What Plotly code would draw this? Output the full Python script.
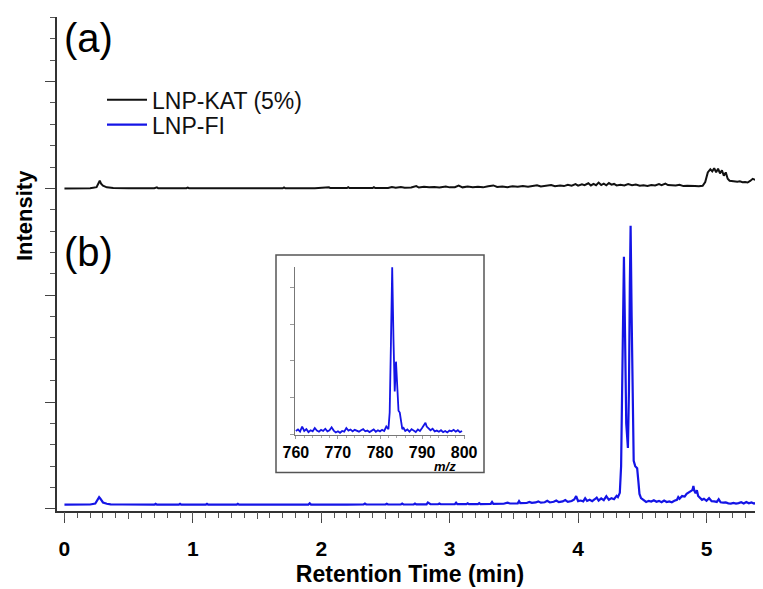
import plotly.graph_objects as go

# ---------------- data ----------------
# Chromatogram (a) LNP-KAT (5%): retention time (min) and relative intensity
kat_time = [0.00, 0.10, 0.20, 0.25, 0.265, 0.275, 0.285, 0.30, 0.33, 0.38, 0.50, 0.70, 0.72, 0.73,
            0.95, 0.96, 0.97, 1.20, 1.21, 1.22, 1.45, 1.46, 1.47, 1.70, 1.71, 1.72, 1.95, 2.05, 2.06,
            2.07, 2.20, 2.21, 2.22, 2.40, 2.41, 2.42, 2.52, 2.55, 2.58, 2.62, 2.65, 2.70, 2.74, 2.76,
            2.80, 2.84, 2.88, 2.92, 2.97, 3.00, 3.04, 3.07, 3.10, 3.14, 3.18, 3.22, 3.26, 3.30, 3.34,
            3.37, 3.41, 3.45, 3.49, 3.53, 3.57, 3.61, 3.65, 3.68, 3.71, 3.75, 3.79, 3.82, 3.86, 3.89,
            3.92, 3.95, 3.98, 4.00, 4.03, 4.05, 4.08, 4.10, 4.12, 4.14, 4.16, 4.18, 4.20, 4.22, 4.24,
            4.26, 4.28, 4.30, 4.33, 4.36, 4.39, 4.42, 4.45, 4.48, 4.51, 4.54, 4.57, 4.60, 4.63, 4.65,
            4.68, 4.70, 4.73, 4.76, 4.79, 4.82, 4.85, 4.88, 4.91, 4.94, 4.97, 4.99, 5.01, 5.03, 5.045,
            5.06, 5.075, 5.09, 5.105, 5.12, 5.135, 5.15, 5.165, 5.18, 5.20, 5.22, 5.24, 5.26, 5.28,
            5.30, 5.32, 5.34, 5.36, 5.38, 5.40, 5.42, 5.44, 5.45]
kat_intensity = [0.000, 0.000, 0.002, 0.012, 0.055, 0.072, 0.045, 0.025, 0.010, 0.003, 0.002, 0.002,
                 0.010, 0.002, 0.002, 0.008, 0.002, 0.002, 0.008, 0.002, 0.002, 0.009, 0.002, 0.002,
                 0.010, 0.002, 0.002, 0.003, 0.010, 0.003, 0.003, 0.011, 0.003, 0.003, 0.012, 0.004,
                 0.005, 0.014, 0.006, 0.013, 0.007, 0.009, 0.022, 0.008, 0.015, 0.010, 0.014, 0.008,
                 0.018, 0.010, 0.012, 0.026, 0.010, 0.018, 0.012, 0.016, 0.010, 0.020, 0.028, 0.014,
                 0.018, 0.012, 0.020, 0.015, 0.022, 0.016, 0.025, 0.030, 0.018, 0.022, 0.032, 0.020,
                 0.028, 0.022, 0.035, 0.025, 0.040, 0.026, 0.038, 0.030, 0.048, 0.028, 0.042, 0.030,
                 0.055, 0.032, 0.045, 0.030, 0.050, 0.035, 0.042, 0.028, 0.035, 0.028, 0.040, 0.030,
                 0.036, 0.025, 0.030, 0.024, 0.032, 0.027, 0.040, 0.030, 0.045, 0.032, 0.030, 0.028,
                 0.035, 0.022, 0.024, 0.020, 0.022, 0.020, 0.025, 0.060, 0.150, 0.180, 0.160, 0.190,
                 0.150, 0.185, 0.140, 0.170, 0.120, 0.150, 0.090, 0.072, 0.068, 0.070, 0.062, 0.066,
                 0.058, 0.060, 0.055, 0.070, 0.090, 0.080, 0.110, 0.095, 0.120, 0.115]
kat_offset = 3.0   # trace (a) is stacked above trace (b)

# Chromatogram (b) LNP-FI
fi_time = [0.00, 0.10, 0.20, 0.24, 0.26, 0.27, 0.28, 0.30, 0.33, 0.36, 0.45, 0.55, 0.70, 0.71, 0.72,
           0.89, 0.90, 0.91, 1.10, 1.11, 1.12, 1.34, 1.35, 1.36, 1.61, 1.62, 1.63, 1.90, 1.91, 1.92,
           2.20, 2.33, 2.34, 2.35, 2.50, 2.51, 2.52, 2.62, 2.63, 2.64, 2.72, 2.73, 2.74, 2.82, 2.83,
           2.85, 2.91, 2.92, 2.93, 3.04, 3.05, 3.06, 3.13, 3.14, 3.15, 3.22, 3.23, 3.24, 3.32, 3.33,
           3.34, 3.42, 3.45, 3.47, 3.53, 3.54, 3.55, 3.60, 3.62, 3.64, 3.67, 3.69, 3.71, 3.74, 3.76,
           3.78, 3.81, 3.83, 3.85, 3.88, 3.90, 3.92, 3.95, 3.97, 3.985, 4.00, 4.02, 4.04, 4.055, 4.07,
           4.09, 4.11, 4.13, 4.145, 4.16, 4.18, 4.20, 4.22, 4.24, 4.26, 4.28, 4.30, 4.31, 4.325, 4.335,
           4.345, 4.357, 4.366, 4.375, 4.388, 4.396, 4.403, 4.409, 4.417, 4.425, 4.433, 4.445, 4.46,
           4.47, 4.478, 4.49, 4.51, 4.53, 4.55, 4.57, 4.59, 4.61, 4.63, 4.65, 4.67, 4.69, 4.71, 4.73,
           4.75, 4.77, 4.78, 4.79, 4.81, 4.83, 4.845, 4.86, 4.875, 4.89, 4.898, 4.905, 4.915, 4.925,
           4.935, 4.95, 4.965, 4.98, 5.00, 5.02, 5.04, 5.06, 5.08, 5.095, 5.11, 5.13, 5.15, 5.17, 5.19,
           5.21, 5.23, 5.25, 5.27, 5.29, 5.31, 5.33, 5.35, 5.37, 5.39, 5.41, 5.43, 5.45]
fi_intensity = [0.040, 0.040, 0.041, 0.050, 0.085, 0.110, 0.095, 0.060, 0.048, 0.042, 0.041, 0.040,
                0.040, 0.048, 0.040, 0.040, 0.047, 0.040, 0.040, 0.048, 0.040, 0.040, 0.047, 0.040,
                0.040, 0.047, 0.040, 0.040, 0.052, 0.040, 0.040, 0.041, 0.050, 0.041, 0.041, 0.048,
                0.041, 0.041, 0.049, 0.041, 0.041, 0.050, 0.042, 0.042, 0.060, 0.043, 0.043, 0.050,
                0.043, 0.043, 0.058, 0.044, 0.044, 0.052, 0.044, 0.045, 0.054, 0.045, 0.046, 0.065,
                0.047, 0.048, 0.058, 0.050, 0.052, 0.072, 0.053, 0.055, 0.065, 0.056, 0.060, 0.070,
                0.058, 0.062, 0.075, 0.060, 0.066, 0.078, 0.063, 0.070, 0.082, 0.066, 0.074, 0.088,
                0.120, 0.072, 0.078, 0.070, 0.100, 0.074, 0.085, 0.072, 0.090, 0.105, 0.078, 0.098,
                0.082, 0.118, 0.085, 0.100, 0.090, 0.122, 0.110, 0.150, 0.400, 1.300, 2.360, 1.600,
                0.800, 0.570, 1.100, 2.100, 2.650, 1.800, 0.850, 0.450, 0.400, 0.380, 0.250, 0.140,
                0.100, 0.080, 0.065, 0.075, 0.068, 0.080, 0.066, 0.075, 0.062, 0.078, 0.064, 0.070,
                0.062, 0.075, 0.085, 0.110, 0.095, 0.120, 0.115, 0.140, 0.150, 0.160, 0.175, 0.215,
                0.170, 0.145, 0.175, 0.120, 0.105, 0.085, 0.095, 0.075, 0.100, 0.072, 0.070, 0.065,
                0.090, 0.062, 0.058, 0.060, 0.052, 0.050, 0.056, 0.050, 0.054, 0.062, 0.050, 0.064,
                0.052, 0.060, 0.050, 0.057, 0.050, 0.062, 0.055]

# Inset: mass spectrum of the LNP-FI peak
ms_mz = [760.0, 760.5, 761.0, 761.5, 762.0, 762.5, 763.0, 763.5, 764.0, 764.5, 765.0, 765.5, 766.0,
         766.5, 767.0, 767.5, 768.0, 768.5, 769.0, 769.5, 770.0, 770.5, 771.0, 771.5, 772.0, 772.5,
         773.0, 773.5, 774.0, 774.5, 775.0, 775.5, 776.0, 776.5, 777.0, 777.5, 778.0, 778.5, 779.0,
         779.5, 780.0, 780.5, 781.0, 781.5, 782.0, 782.3, 782.6, 782.9, 783.2, 783.5, 783.8, 784.1,
         784.4, 784.7, 785.0, 785.3, 785.6, 786.0, 786.5, 787.0, 787.5, 788.0, 788.5, 789.0, 789.5,
         790.0, 790.5, 790.8, 791.1, 791.5, 792.0, 792.5, 793.0, 793.5, 794.0, 794.5, 795.0, 795.5,
         796.0, 796.5, 797.0, 797.5, 798.0, 798.5, 799.0, 799.5]
ms_intensity = [0.10, 0.14, 0.08, 0.22, 0.10, 0.15, 0.07, 0.12, 0.09, 0.18, 0.11, 0.08, 0.13, 0.10,
                0.16, 0.09, 0.12, 0.20, 0.11, 0.06, 0.09, 0.05, 0.10, 0.08, 0.18, 0.11, 0.14, 0.09,
                0.13, 0.10, 0.08, 0.12, 0.15, 0.09, 0.11, 0.07, 0.10, 0.14, 0.08, 0.12, 0.09, 0.13,
                0.10, 0.22, 0.15, 0.60, 2.50, 4.54, 2.60, 1.17, 1.98, 1.30, 0.65, 0.60, 0.30, 0.15,
                0.18, 0.10, 0.14, 0.08, 0.15, 0.10, 0.07, 0.14, 0.10, 0.18, 0.28, 0.32, 0.22, 0.17,
                0.12, 0.16, 0.09, 0.11, 0.08, 0.12, 0.07, 0.10, 0.06, 0.11, 0.09, 0.13, 0.08, 0.12,
                0.07, 0.10]

x_tick_vals = [0, 1, 2, 3, 4, 5]
inset_tick_vals = [760, 770, 780, 790, 800]

# ---------------- figure ----------------
FONT = "Arial, 'Liberation Sans', sans-serif"
BLACK = "#111111"
BLUE = "#1414e6"
AXIS = "#333333"

# page body adds an 8 px margin, so the figure is 8 px smaller than the window
BODY = 8
W, H = 763 - BODY, 589 - BODY
ML, MR, MT, MB = 57 - BODY, 0, 16.6 - BODY, 589 - 511.5
pw, ph = W - ML - MR, H - MT - MB


def px(xr):
    # reference (window) pixel x -> paper fraction
    return (xr - BODY - ML) / pw


def py(yr):
    # reference (window) pixel y -> paper fraction
    return (H - MB - (yr - BODY)) / ph


fig = go.Figure()
fig.add_trace(go.Scatter(x=kat_time, y=[v + kat_offset for v in kat_intensity], mode="lines",
                         name="LNP-KAT (5%)", legend="legend",
                         line=dict(color=BLACK, width=2)))
fig.add_trace(go.Scatter(x=fi_time, y=fi_intensity, mode="lines", name="LNP-FI", legend="legend2",
                         line=dict(color=BLUE, width=2.2)))
fig.add_trace(go.Scatter(x=ms_mz, y=ms_intensity, mode="lines", showlegend=False,
                         line=dict(color=BLUE, width=1.8), xaxis="x3", yaxis="y3"))
# phantom trace to activate the overlay x-axis carrying the 0.5-min ticks
fig.add_trace(go.Scatter(x=[None], y=[None], xaxis="x2", yaxis="y", showlegend=False,
                         hoverinfo="skip"))

legend_common = dict(xanchor="left", yanchor="top", bgcolor="rgba(0,0,0,0)", itemwidth=40,
                     font=dict(size=23, family=FONT, color="#111111"))

fig.update_layout(
    width=W, height=H,
    margin=dict(l=ML, r=MR, t=MT, b=MB, autoexpand=False),
    paper_bgcolor="white", plot_bgcolor="white",
    font=dict(family=FONT, color="#000000"),
    showlegend=True,
    legend=dict(x=px(102), y=py(78), **legend_common),
    legend2=dict(x=px(102), y=py(103), **legend_common),
    xaxis=dict(range=[-0.058, 5.44], showgrid=False, zeroline=False,
               showline=True, linecolor=AXIS, linewidth=1.5,
               ticks="outside", ticklen=10, tickwidth=1.2, tickcolor="#444444",
               tickvals=x_tick_vals,
               tickfont=dict(size=21, family=FONT, color="#000000", weight="bold"),
               ticklabelstandoff=8,
               minor=dict(dtick=0.1, ticks="outside", ticklen=5, tickwidth=1, tickcolor="#555555"),
               title=dict(text="<b>Retention Time (min)</b>", font=dict(size=23, family=FONT),
                          standoff=7)),
    xaxis2=dict(range=[-0.058, 5.44], overlaying="x", showgrid=False, zeroline=False,
                showline=False, ticks="outside", ticklen=7, tickwidth=1, tickcolor="#555555",
                dtick=0.5, tick0=0, showticklabels=False, side="bottom", anchor="y"),
    yaxis=dict(range=[-0.02, 4.605], showgrid=False, zeroline=False,
               showline=True, linecolor=AXIS, linewidth=1.5,
               ticks="outside", ticklen=10, tickwidth=1.2, tickcolor="#444444",
               dtick=1, tick0=0, showticklabels=False,
               minor=dict(dtick=0.2, ticks="outside", ticklen=5, tickwidth=1, tickcolor="#555555")),
    xaxis3=dict(domain=[px(295), px(465)], range=[759.8, 800.2], anchor="y3",
                showgrid=False, zeroline=False, showline=True, linecolor="#777777", linewidth=1,
                ticks="outside", ticklen=3, tickcolor="#999999", tickvals=inset_tick_vals,
                tickfont=dict(size=16, family=FONT, color="#000000", weight="bold"),
                ticklabelstandoff=0,
                minor=dict(dtick=2, ticks="outside", ticklen=2, tickcolor="#aaaaaa")),
    yaxis3=dict(domain=[py(435), py(267)], range=[0, 4.55], anchor="x3",
                showgrid=False, zeroline=False, showline=True, linecolor="#777777", linewidth=1,
                ticks="outside", ticklen=4, tickcolor="#999999", dtick=1, tick0=0,
                showticklabels=False),
)

# inset frame
fig.add_shape(type="rect", xref="paper", yref="paper", x0=px(276), x1=px(484), y0=py(473), y1=py(255),
              line=dict(color="#555555", width=1.5), fillcolor="rgba(0,0,0,0)", layer="below")

fig.add_annotation(text="(a)", xref="paper", yref="paper", x=px(62), y=py(38), xanchor="left",
                   yanchor="middle", showarrow=False, font=dict(size=40, family=FONT, color="#000000"))
fig.add_annotation(text="(b)", xref="paper", yref="paper", x=px(62), y=py(252), xanchor="left",
                   yanchor="middle", showarrow=False, font=dict(size=40, family=FONT, color="#000000"))
fig.add_annotation(text="<b>Intensity</b>", xref="paper", yref="paper", x=px(24), y=py(216),
                   xanchor="center", yanchor="middle", textangle=-90, showarrow=False,
                   font=dict(size=22, family=FONT, color="#000000"))
fig.add_annotation(text="<b><i>m/z</i></b>", xref="paper", yref="paper", x=px(445), y=py(467),
                   xanchor="center", yanchor="middle", showarrow=False, borderpad=0,
                   font=dict(size=13, family=FONT, color="#000000"))

fig.write_html("out.html")
